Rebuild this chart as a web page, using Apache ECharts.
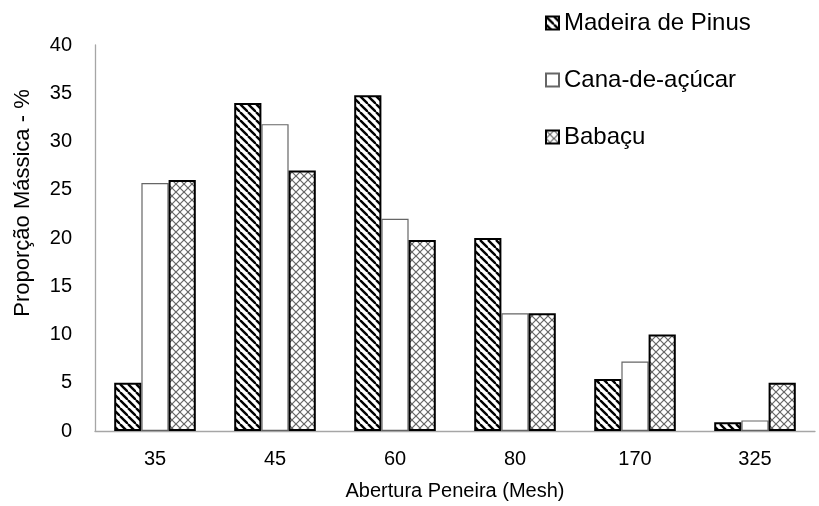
<!DOCTYPE html>
<html><head><meta charset="utf-8">
<script src="https://cdn.jsdelivr.net/npm/echarts@6/dist/echarts.min.js"></script>
<style>html,body{margin:0;padding:0;background:#fff}#c{width:819px;height:506px}</style>
</head><body><div id="c"></div>
<script>
var categories = ['35', '45', '60', '80', '170', '325'];
var pinus = [5, 34, 34.8, 20, 5.4, 0.9];
var cana = [25.7, 31.8, 22, 12.2, 7.2, 1.1];
var babacu = [26, 27, 19.8, 12.2, 10, 5];
var seriesNames = ['Madeira de Pinus', 'Cana-de-açúcar', 'Babaçu'];

function stripes() {
  var s = 8, c = document.createElement('canvas');
  c.width = s; c.height = s;
  var g = c.getContext('2d');
  g.fillStyle = '#fff'; g.fillRect(0, 0, s, s);
  g.strokeStyle = '#000'; g.lineWidth = 2.4;
  for (var k = -1; k <= 1; k++) {
    g.beginPath(); g.moveTo(k * s, 0); g.lineTo(k * s + s, s); g.stroke();
  }
  return c;
}
function cross() {
  var s = 8, c = document.createElement('canvas');
  c.width = s; c.height = s;
  var g = c.getContext('2d');
  g.fillStyle = '#fff'; g.fillRect(0, 0, s, s);
  g.strokeStyle = '#666'; g.lineWidth = 1.2;
  for (var k = -1; k <= 1; k++) {
    g.beginPath(); g.moveTo(k * s, 0); g.lineTo(k * s + s, s); g.stroke();
    g.beginPath(); g.moveTo(k * s + s, 0); g.lineTo(k * s, s); g.stroke();
  }
  return c;
}
var font = 'Liberation Sans';
var chart = echarts.init(document.getElementById('c'));
chart.setOption({
  animation: false,
  textStyle: { fontFamily: font },
  grid: { left: 95, right: 4, top: 45, bottom: 71, containLabel: false },
  legend: {
    orient: 'vertical', left: 545, top: 11, padding: 0, itemWidth: 13, itemHeight: 13, itemGap: 33,
    icon: 'rect',
    textStyle: { fontSize: 24, color: '#000', fontFamily: font },
    data: seriesNames
  },
  xAxis: {
    type: 'category', data: categories,
    name: 'Abertura Peneira (Mesh)', nameLocation: 'middle', nameGap: 50,
    nameTextStyle: { fontSize: 20, color: '#000', fontFamily: font },
    axisLine: { lineStyle: { color: '#a6a6a6', width: 1.3 } },
    axisTick: { show: false },
    axisLabel: { fontSize: 20, color: '#000', margin: 18, fontFamily: font }
  },
  yAxis: {
    type: 'value', min: 0, max: 40, interval: 5,
    name: 'Proporção Mássica - %', nameLocation: 'middle', nameGap: 61,
    nameTextStyle: { fontSize: 22, color: '#000', fontFamily: font, padding: [0, 0, 0, 70] },
    axisLine: { show: true, lineStyle: { color: '#a6a6a6', width: 1.3 } },
    axisTick: { show: false },
    splitLine: { show: false },
    axisLabel: { fontSize: 20, color: '#000', margin: 23, fontFamily: font }
  },
  series: [
    { name: seriesNames[0], type: 'bar', data: pinus, barGap: '0%', barCategoryGap: '32%',
      itemStyle: { color: { image: stripes(), repeat: 'repeat' }, borderColor: '#000', borderWidth: 2 } },
    { name: seriesNames[1], type: 'bar', data: cana, barGap: '0%', barCategoryGap: '32%',
      itemStyle: { color: '#fff', borderColor: '#666', borderWidth: 1.2 } },
    { name: seriesNames[2], type: 'bar', data: babacu, barGap: '0%', barCategoryGap: '32%',
      itemStyle: { color: { image: cross(), repeat: 'repeat' }, borderColor: '#000', borderWidth: 2 } }
  ]
});
</script></body></html>
